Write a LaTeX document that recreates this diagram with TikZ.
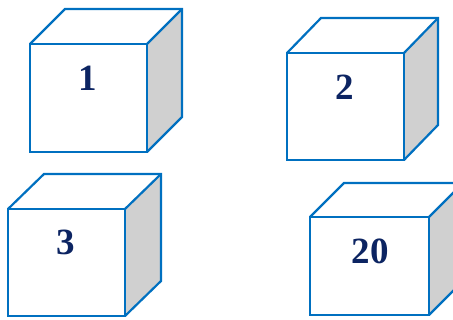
\documentclass[tikz,border=0pt]{standalone}
\usepackage{fontspec}
\setmainfont{Liberation Serif}
\definecolor{edgeblue}{RGB}{0,112,192}
\definecolor{sidegray}{RGB}{208,208,208}
\definecolor{numnavy}{RGB}{12,36,98}
\newcommand{\boxcube}[6]{% left top right bottom dx dy(up)
  \fill[sidegray] (#3,#2) -- (#3+#5,#2-#6) -- (#3+#5,#4-#6) -- (#3,#4) -- cycle;
  \fill[white] (#1,#2) -- (#1+#5,#2-#6) -- (#3+#5,#2-#6) -- (#3,#2) -- cycle;
  \fill[white] (#1,#2) rectangle (#3,#4);
  \draw[cubeline] (#1,#2) rectangle (#3,#4);
  \draw[cubeline] (#1,#2) -- (#1+#5,#2-#6) -- (#3+#5,#2-#6) -- (#3+#5,#4-#6) -- (#3,#4);
  \draw[cubeline] (#3,#2) -- (#3+#5,#2-#6);
}
\begin{document}
\begin{tikzpicture}[x=1pt,y=-1pt,
  cubeline/.style={draw=edgeblue,line width=2.2pt,line join=miter},
  num/.style={font=\bfseries\fontsize{37}{40}\selectfont,text=numnavy,inner sep=0pt}]
\useasboundingbox (0,0) rectangle (453,320);
\clip (0,0) rectangle (453,320);
\boxcube{30}{44}{147}{152}{35}{35}
\boxcube{287}{53}{404}{160}{34}{35}
\boxcube{8}{209}{125}{316}{36}{35}
\boxcube{310}{217}{429}{315}{34}{34}
\node[num] (n1) at (88,78) {1};
\node[num] (n2) at (345,87.5) {2};
\node[num] (n3) at (66,242.5) {3};
\node[num] (n20) at (370,251) {20};
\end{tikzpicture}
\end{document}
